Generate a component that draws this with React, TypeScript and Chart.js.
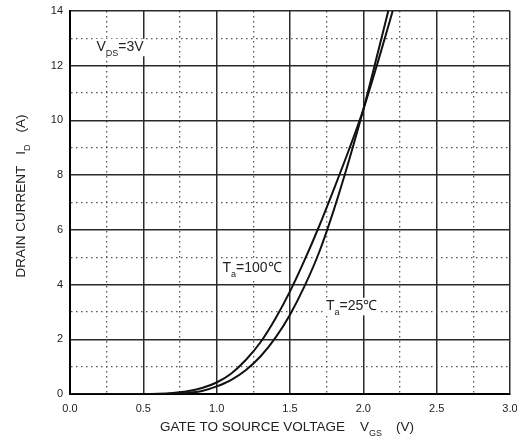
import { useEffect, useRef } from "react";
import { Chart, registerables } from "chart.js";

Chart.register(...registerables);

// Gate-source voltage (V) and drain current (A)
const vgs100 = [0, 0.5, 0.6, 0.7, 0.8, 0.9, 1.0, 1.1, 1.2, 1.3, 1.4, 1.5, 1.6, 1.7, 1.8, 1.9, 2.0, 2.1, 2.2];
const id100 = [0, 0, 0.01, 0.04, 0.1, 0.22, 0.42, 0.75, 1.25, 1.9, 2.75, 3.75, 4.9, 6.15, 7.5, 8.9, 10.4, 12.15, 14];
const vgs25 = [0, 0.5, 0.6, 0.7, 0.8, 0.9, 1.0, 1.1, 1.2, 1.3, 1.4, 1.5, 1.6, 1.7, 1.8, 1.9, 2.0, 2.1, 2.17];
const id25 = [0, 0, 0, 0.01, 0.04, 0.11, 0.28, 0.52, 0.88, 1.38, 2.05, 2.9, 3.95, 5.2, 6.75, 8.5, 10.4, 12.5, 14];

const xMin = 0;
const xMax = 3.0;
const yMin = 0;
const yMax = 14;
const xLabelStep = 0.5;
const yLabelStep = 2;

type Seg = { t?: string; sub?: boolean; gap?: number };

const FONT = "'Liberation Sans', Arial, sans-serif";

function segWidth(ctx: CanvasRenderingContext2D, s: Seg, size: number, subSize: number) {
  if (s.gap !== undefined) return s.gap;
  ctx.font = `${s.sub ? subSize : size}px ${FONT}`;
  return ctx.measureText(s.t || "").width;
}

function drawRich(
  ctx: CanvasRenderingContext2D,
  segs: Seg[],
  x: number,
  y: number,
  size: number,
  subSize: number,
  align: "left" | "center",
  bg: boolean
) {
  const total = segs.reduce((a, s) => a + segWidth(ctx, s, size, subSize), 0);
  let cx = align === "center" ? x - total / 2 : x;
  if (bg) {
    ctx.fillStyle = "#ffffff";
    ctx.fillRect(cx - 2, y - size * 0.85, total + 4, size * 1.25);
  }
  ctx.fillStyle = "#222";
  ctx.textBaseline = "alphabetic";
  ctx.textAlign = "left";
  for (const s of segs) {
    const w = segWidth(ctx, s, size, subSize);
    if (s.t) {
      ctx.font = `${s.sub ? subSize : size}px ${FONT}`;
      ctx.fillText(s.t, cx, s.sub ? y + size * 0.35 : y);
    }
    cx += w;
  }
}

const xTitle: Seg[] = [{ t: "GATE TO SOURCE VOLTAGE" }, { gap: 15 }, { t: "V" }, { t: "GS", sub: true }, { gap: 14 }, { t: "(V)" }];
const yTitle: Seg[] = [{ t: "DRAIN CURRENT" }, { gap: 11 }, { t: "I" }, { t: "D", sub: true }, { gap: 12 }, { t: "(A)" }];

const notes: { segs: Seg[]; x: number; y: number }[] = [
  { segs: [{ t: "V" }, { t: "DS", sub: true }, { t: "=3V" }], x: 0.18, y: 12.55 },
  { segs: [{ t: "T" }, { t: "a", sub: true }, { t: "=100℃" }], x: 1.04, y: 4.45 },
  { segs: [{ t: "T" }, { t: "a", sub: true }, { t: "=25℃" }], x: 1.745, y: 3.08 },
];

const textPlugin = {
  id: "richText",
  afterDraw(chart: any) {
    const { ctx, scales } = chart;
    const xs = scales.x;
    const ys = scales.y;
    ctx.save();
    for (const n of notes) {
      drawRich(ctx, n.segs, xs.getPixelForValue(n.x), ys.getPixelForValue(n.y), 14, 9, "left", true);
    }
    drawRich(ctx, xTitle, 287, 431, 13.5, 9, "center", false);
    ctx.translate(25, 196);
    ctx.rotate(-Math.PI / 2);
    drawRich(ctx, yTitle, 0, 0, 13.5, 9, "center", false);
    ctx.restore();
  },
};

const isMajor = (v: number, step: number) => Math.abs(v / step - Math.round(v / step)) < 1e-6;

export default function App() {
  const ref = useRef<HTMLCanvasElement>(null);
  useEffect(() => {
    document.body.style.margin = "0";
    const curve100 = vgs100.map((v, i) => ({ x: v, y: id100[i] }));
    const curve25 = vgs25.map((v, i) => ({ x: v, y: id25[i] }));
    const gridColor = (step: number) => (c: any) =>
      c.tick && !isMajor(c.tick.value, step) ? "#555" : "#2a2a2a";
    const gridWidth = (step: number) => (c: any) =>
      c.tick && !isMajor(c.tick.value, step) ? 1.3 : 1.5;
    const gridDash = (step: number) => (c: any) =>
      c.tick && !isMajor(c.tick.value, step) ? [1.5, 3.5] : [];
    const chart = new Chart(ref.current!, {
      type: "scatter",
      data: {
        datasets: [
          {
            label: "Ta=100℃",
            data: curve100,
            showLine: true,
            borderColor: "#111",
            borderWidth: 2,
            pointRadius: 0,
            cubicInterpolationMode: "monotone",
          },
          {
            label: "Ta=25℃",
            data: curve25,
            showLine: true,
            borderColor: "#111",
            borderWidth: 2,
            pointRadius: 0,
            cubicInterpolationMode: "monotone",
          },
        ],
      },
      options: {
        animation: false,
        responsive: true,
        maintainAspectRatio: false,
        layout: { padding: { left: 0, top: 11, right: 7, bottom: 0 } },
        plugins: { legend: { display: false }, tooltip: { enabled: false } },
        scales: {
          x: {
            type: "linear",
            min: xMin,
            max: xMax,
            afterFit: (s: any) => {
              s.height = 46;
              s.paddingRight = 0;
              s.paddingLeft = 0;
            },
            ticks: {
              stepSize: 0.25,
              autoSkip: false,
              maxRotation: 0,
              padding: 8,
              color: "#222",
              font: { family: FONT, size: 11 },
              callback: (v: any) => (isMajor(Number(v), xLabelStep) ? Number(v).toFixed(1) : ""),
            },
            grid: {
              drawTicks: false,
              color: gridColor(xLabelStep),
              lineWidth: gridWidth(xLabelStep),
            },
            border: { display: true, color: "#000", width: 2, dash: gridDash(xLabelStep) },
          },
          y: {
            type: "linear",
            min: yMin,
            max: yMax,
            afterFit: (s: any) => {
              s.width = 70;
              s.paddingTop = 0;
              s.paddingBottom = 0;
            },
            ticks: {
              stepSize: 1,
              autoSkip: false,
              padding: 7,
              color: "#222",
              font: { family: FONT, size: 11 },
              callback: (v: any) => (isMajor(Number(v), yLabelStep) ? String(v) : ""),
            },
            grid: {
              drawTicks: false,
              color: gridColor(yLabelStep),
              lineWidth: gridWidth(yLabelStep),
            },
            border: { display: true, color: "#000", width: 2, dash: gridDash(yLabelStep) },
          },
        },
      } as any,
      plugins: [textPlugin],
    });
    return () => chart.destroy();
  }, []);
  return (
    <div style={{ position: "fixed", left: 0, top: 0, width: 517, height: 440, background: "#fff" }}>
      <canvas ref={ref} />
    </div>
  );
}
